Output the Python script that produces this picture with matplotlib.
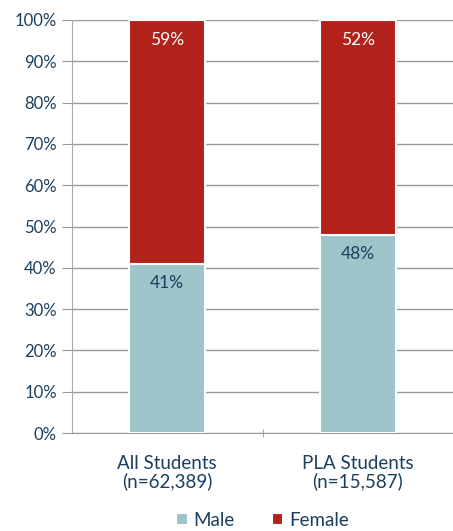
import numpy as np
import matplotlib.pyplot as plt
from matplotlib.ticker import PercentFormatter

categories = ['All Students\n(n=62,389)', 'PLA Students\n(n=15,587)']
male = [41, 48]
female = [59, 52]

male_color = '#9dc4c9'
female_color = '#b2221a'
text_color = '#1b3f5e'

plt.rcParams['font.family'] = ['Lato', 'DejaVu Sans']

fig = plt.figure(figsize=(4.53, 5.31), dpi=100)
ax = fig.add_axes([72 / 453, (531 - 433) / 531, 381 / 453, 413 / 531])

x = np.arange(len(categories))
ax.bar(x, male, width=0.4, color=male_color, edgecolor='white', linewidth=1.5, label='Male', zorder=3)
ax.bar(x, female, width=0.4, bottom=male, color=female_color, edgecolor='white', linewidth=1.5, label='Female', zorder=3)

for i in range(len(x)):
    ax.text(x[i], male[i] - 4.6, f'{male[i]}%', ha='center', va='center', color=text_color, fontsize=12.5, zorder=4)
    ax.text(x[i], 100 - 4.8, f'{female[i]}%', ha='center', va='center', color='white', fontsize=12.5, zorder=4)

ax.set_xlim(-0.5, 1.5)
ax.set_ylim(0, 100)
ax.set_yticks(np.arange(0, 101, 10))
ax.yaxis.set_major_formatter(PercentFormatter(decimals=0))
ax.set_xticks(x)
ax.set_xticklabels(categories, linespacing=1.0)
ax.set_xticks([0.5], minor=True)
ax.tick_params(axis='x', which='major', length=0, pad=16, labelsize=13.5, labelcolor=text_color)
ax.tick_params(axis='x', which='minor', length=6, color='#999999', direction='inout')
ax.tick_params(axis='y', length=7, color='#999999', labelsize=12, labelcolor=text_color, pad=4)
ax.yaxis.grid(True, color='#999999', linewidth=1, zorder=0)

for s in ['top', 'right']:
    ax.spines[s].set_visible(False)
ax.spines['left'].set_color('#aaaaaa')
ax.spines['bottom'].set_color('#999999')

ax.legend(loc='center', bbox_to_anchor=(0.5, (531 - 520 - 98) / 413), ncol=2, frameon=False,
          handlelength=0.6, handleheight=0.6, handletextpad=0.3, columnspacing=2.0,
          fontsize=13.5, labelcolor=text_color)

fig.savefig('out.png', dpi=100)
